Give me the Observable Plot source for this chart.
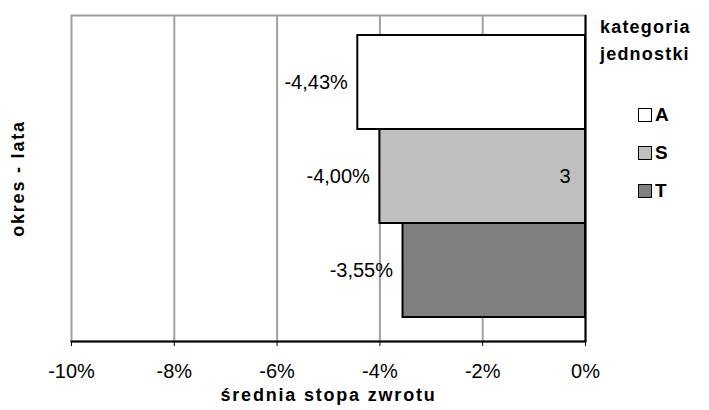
<!DOCTYPE html>
<html><head><meta charset="utf-8">
<script src="https://cdn.jsdelivr.net/npm/d3@7"></script>
<script src="https://cdn.jsdelivr.net/npm/@observablehq/plot@0.6"></script>
<style>
body{margin:0;background:#fff;}
#wrap{position:relative;width:709px;height:410px;font-family:"Liberation Sans",Arial,sans-serif;}
#wrap svg g[aria-label="x-axis label"] text, #wrap svg g[aria-label="y-axis label"] text{font-weight:bold;font-size:18px;letter-spacing:1.8px;}
#legend{position:absolute;left:600px;top:14px;font-family:"Liberation Sans",Arial,sans-serif;color:#000;}
#legend .title{font-weight:bold;font-size:18px;line-height:27px;letter-spacing:1.2px;}
#legend .item{display:flex;align-items:center;font-weight:bold;font-size:19px;margin-left:38px;height:38px;}
#legend .sw{width:12px;height:12px;border:1.5px solid #000;margin-right:3px;}
</style></head>
<body><div id="wrap"></div>
<script>
const series = ["A", "S", "T"];
const values = [-4.43, -4.00, -3.55];
const categories = ["3"];
const xTicks = [-10, -8, -6, -4, -2, 0];
const gridTicks = [-8, -6, -4, -2];
const legendTitle = ["kategoria", "jednostki"];
const xLabel = "średnia stopa zwrotu";
const yLabel = "okres - lata";

const fills = ["#ffffff", "#c0c0c0", "#808080"];
const data = series.map((s, i) => ({series: s, value: values[i]}));
const pct = d => d.toFixed(2).replace(".", ",") + "%";

const chart = Plot.plot({
  width: 709, height: 410,
  marginLeft: 71, marginRight: 124, marginTop: 15, marginBottom: 69,
  style: {fontFamily: '"Liberation Sans", Arial, sans-serif', fontSize: "20px", color: "#000", background: "#fff"},
  x: {domain: [-10, 0]},
  y: {domain: series, padding: 0, insetTop: 20, insetBottom: 24},
  color: {domain: series, range: fills},
  marks: [
    Plot.gridX(gridTicks, {stroke: "#a0a0a0", strokeOpacity: 1, strokeWidth: 2}),
    Plot.frame({stroke: "#a0a0a0", strokeWidth: 2}),
    Plot.barX(data, {x: "value", y: "series", fill: "series", stroke: "#000", strokeWidth: 2}),
    Plot.ruleX([0], {stroke: "#000", strokeWidth: 2}),
    Plot.frame({anchor: "bottom", stroke: "#000", strokeWidth: 2}),
    Plot.axisX({ticks: xTicks, tickFormat: d => d + "%", tickSize: 5, tickPadding: 17, fontSize: 20,
      stroke: "#000", label: xLabel, labelAnchor: "center", labelOffset: 59, labelArrow: "none"}),
    Plot.axisY({ticks: [], tickSize: 0, label: yLabel, labelAnchor: "center", labelOffset: 60, labelArrow: "none"}),
    Plot.text(data, {x: "value", y: "series", text: d => pct(d.value), textAnchor: "end", dx: -10, fontSize: 20}),
    Plot.text(categories, {x: () => 0, y: () => series[1], text: d => d, textAnchor: "end", dx: -15, fontSize: 20})
  ]
});
const wrap = document.getElementById("wrap");
wrap.appendChild(chart);

const legend = document.createElement("div");
legend.id = "legend";
legend.innerHTML = legendTitle.map(t => `<div class="title">${t}</div>`).join("") +
  '<div style="height:28px"></div>' +
  series.map((s, i) => `<div class="item"><span class="sw" style="background:${fills[i]}"></span>${s}</div>`).join("");
wrap.appendChild(legend);
</script></body></html>
